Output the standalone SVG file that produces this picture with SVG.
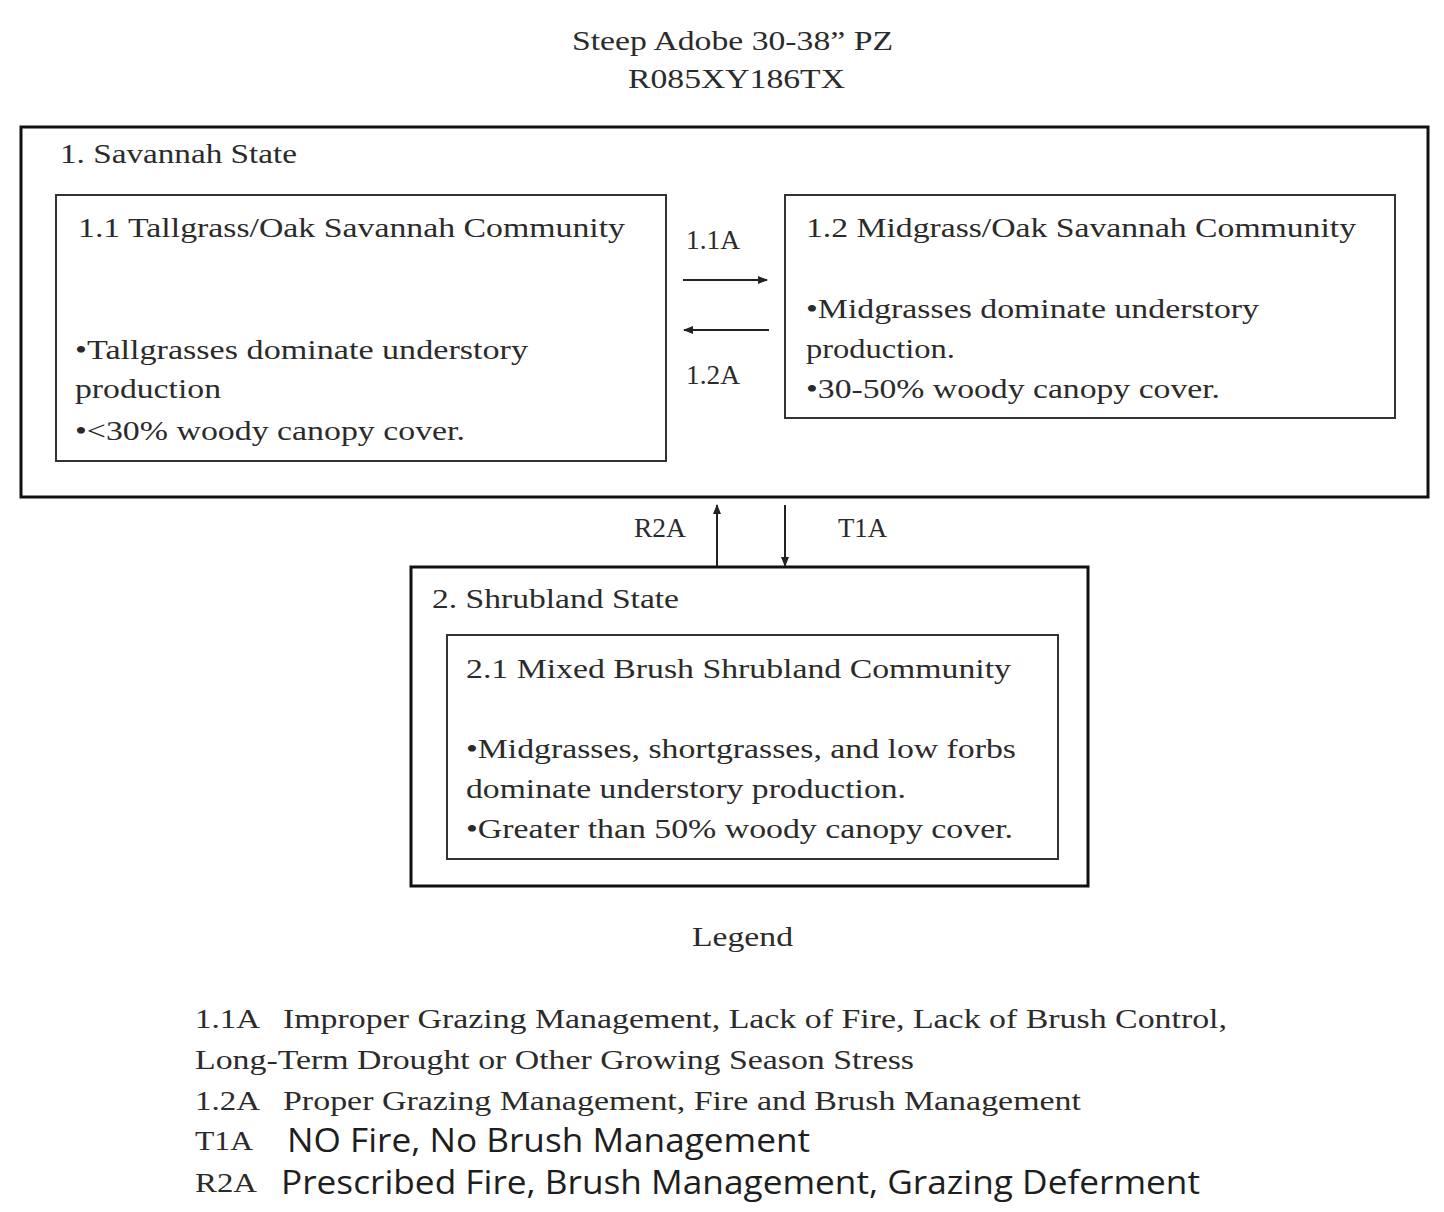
<svg xmlns="http://www.w3.org/2000/svg" width="1444" height="1212" viewBox="0 0 1444 1212">
<style>
.s{font-family:"Liberation Serif","Times New Roman",serif;font-size:28px;fill:#2b2b2b}
.n{font-family:"Open Sans","Noto Sans",sans-serif;font-size:32px;fill:#1e1e1e}
.state{fill:#fff;stroke:#111;stroke-width:3}
.comm{fill:#fff;stroke:#333;stroke-width:2}
.c{stroke:#222;stroke-width:2;fill:none}
</style>
<defs>
<marker id="ah" viewBox="0 0 10 10" refX="9" refY="5" markerWidth="5" markerHeight="5" orient="auto-start-reverse">
<path d="M0,1 L10,5 L0,9 z" fill="#222"/>
</marker>
</defs>
<rect width="1444" height="1212" fill="#fff"/>
<g id="title">
<text class="s" x="572" y="50" textLength="321" lengthAdjust="spacingAndGlyphs">Steep Adobe 30-38” PZ</text>
<text class="s" x="628" y="88" textLength="217" lengthAdjust="spacingAndGlyphs">R085XY186TX</text>
</g>
<g id="state1">
<rect class="state" x="21" y="127" width="1407" height="370"/>
<text class="s" x="60" y="163" textLength="237" lengthAdjust="spacingAndGlyphs">1. Savannah State</text>
</g>
<g id="comm11">
<rect class="comm" x="56" y="195" width="610" height="266"/>
<text class="s" x="78" y="237" textLength="547" lengthAdjust="spacingAndGlyphs">1.1 Tallgrass/Oak Savannah Community</text>
<text class="s" x="75" y="359" textLength="453" lengthAdjust="spacingAndGlyphs">•Tallgrasses dominate understory</text>
<text class="s" x="75" y="398" textLength="146" lengthAdjust="spacingAndGlyphs">production</text>
<text class="s" x="75" y="440" textLength="390" lengthAdjust="spacingAndGlyphs">•&lt;30% woody canopy cover.</text>
</g>
<g id="comm12">
<rect class="comm" x="785" y="195" width="610" height="223"/>
<text class="s" x="806" y="237" textLength="550" lengthAdjust="spacingAndGlyphs">1.2 Midgrass/Oak Savannah Community</text>
<text class="s" x="806" y="318" textLength="453" lengthAdjust="spacingAndGlyphs">•Midgrasses dominate understory</text>
<text class="s" x="806" y="358" textLength="149" lengthAdjust="spacingAndGlyphs">production.</text>
<text class="s" x="806" y="398" textLength="414" lengthAdjust="spacingAndGlyphs">•30-50% woody canopy cover.</text>
</g>
<g id="state2">
<rect class="state" x="411" y="567" width="677" height="319"/>
<text class="s" x="432" y="608" textLength="247" lengthAdjust="spacingAndGlyphs">2. Shrubland State</text>
</g>
<g id="comm21">
<rect class="comm" x="447" y="635" width="611" height="224"/>
<text class="s" x="466" y="678" textLength="545" lengthAdjust="spacingAndGlyphs">2.1 Mixed Brush Shrubland Community</text>
<text class="s" x="466" y="758" textLength="550" lengthAdjust="spacingAndGlyphs">•Midgrasses, shortgrasses, and low forbs</text>
<text class="s" x="466" y="798" textLength="440" lengthAdjust="spacingAndGlyphs">dominate understory production.</text>
<text class="s" x="466" y="838" textLength="547" lengthAdjust="spacingAndGlyphs">•Greater than 50% woody canopy cover.</text>
</g>
<g id="connectors">
<line class="c" x1="683" y1="280" x2="767" y2="280" marker-end="url(#ah)"/>
<line class="c" x1="769" y1="330" x2="684" y2="330" marker-end="url(#ah)"/>
<line class="c" x1="717" y1="566" x2="717" y2="505" marker-end="url(#ah)"/>
<line class="c" x1="785" y1="505" x2="785" y2="566" marker-end="url(#ah)"/>
<text class="s" x="686" y="249" textLength="54" lengthAdjust="spacingAndGlyphs">1.1A</text>
<text class="s" x="686" y="384" textLength="54" lengthAdjust="spacingAndGlyphs">1.2A</text>
<text class="s" x="634" y="537" textLength="52" lengthAdjust="spacingAndGlyphs">R2A</text>
<text class="s" x="838" y="537" textLength="49" lengthAdjust="spacingAndGlyphs">T1A</text>
</g>
<g id="legend">
<text class="s" x="692" y="946" textLength="101" lengthAdjust="spacingAndGlyphs">Legend</text>
<text class="s" x="195" y="1028" textLength="65" lengthAdjust="spacingAndGlyphs">1.1A</text>
<text class="s" x="283" y="1028" textLength="944" lengthAdjust="spacingAndGlyphs">Improper Grazing Management, Lack of Fire, Lack of Brush Control,</text>
<text class="s" x="195" y="1069" textLength="719" lengthAdjust="spacingAndGlyphs">Long-Term Drought or Other Growing Season Stress</text>
<text class="s" x="195" y="1110" textLength="65" lengthAdjust="spacingAndGlyphs">1.2A</text>
<text class="s" x="283" y="1110" textLength="798" lengthAdjust="spacingAndGlyphs">Proper Grazing Management, Fire and Brush Management</text>
<text class="s" x="195" y="1150" textLength="58" lengthAdjust="spacingAndGlyphs">T1A</text>
<text class="n" x="287" y="1152" textLength="523" lengthAdjust="spacingAndGlyphs">NO Fire, No Brush Management</text>
<text class="s" x="195" y="1192" textLength="62" lengthAdjust="spacingAndGlyphs">R2A</text>
<text class="n" x="281" y="1194" textLength="919" lengthAdjust="spacingAndGlyphs">Prescribed Fire, Brush Management, Grazing Deferment</text>
</g>
</svg>
